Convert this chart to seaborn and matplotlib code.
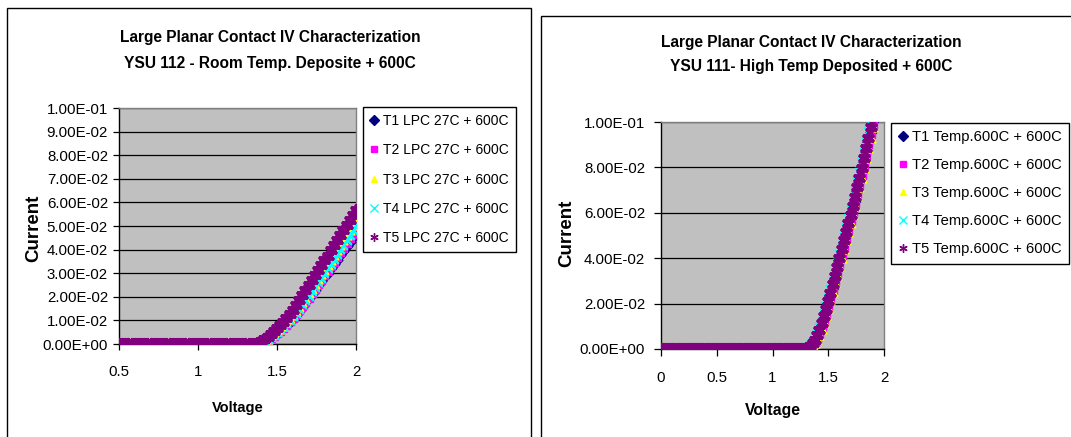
import matplotlib
matplotlib.use('Agg')
import matplotlib.pyplot as plt
import matplotlib.patches as mpatches
from matplotlib.ticker import FuncFormatter
import seaborn as sns
import pandas as pd

# Datos (Voltage en V, Current en A)
volts_left = [
    0.50, 0.52, 0.54, 0.56, 0.58, 0.60, 0.62, 0.64, 0.66, 0.68, 0.70, 0.72, 0.74, 0.76, 0.78,
    0.80, 0.82, 0.84, 0.86, 0.88, 0.90, 0.92, 0.94, 0.96, 0.98, 1.00, 1.02, 1.04, 1.06, 1.08,
    1.10, 1.12, 1.14, 1.16, 1.18, 1.20, 1.22, 1.24, 1.26, 1.28, 1.30, 1.32, 1.34,
    1.36, 1.38, 1.40, 1.42, 1.44, 1.46, 1.48, 1.50, 1.52, 1.54, 1.56, 1.58, 1.60, 1.62, 1.64,
    1.66, 1.68, 1.70, 1.72, 1.74, 1.76, 1.78, 1.80, 1.82, 1.84, 1.86, 1.88, 1.90, 1.92, 1.94,
    1.96, 1.98, 2.00,
]
flat_left = [0.0] * 43  # 0.50 .. 1.34 V, corriente nula

t1_left = flat_left + [
    0.0000, 0.0002, 0.0005, 0.0010, 0.0016, 0.0024, 0.0033, 0.0043, 0.0054, 0.0066, 0.0079,
    0.0093, 0.0108, 0.0124, 0.0141, 0.0158, 0.0176, 0.0194, 0.0212, 0.0230, 0.0248, 0.0266,
    0.0284, 0.0302, 0.0321, 0.0340, 0.0358, 0.0377, 0.0396, 0.0415, 0.0434, 0.0453, 0.0472,
]
t2_left = flat_left + [
    0.0001, 0.0003, 0.0007, 0.0012, 0.0019, 0.0027, 0.0036, 0.0046, 0.0057, 0.0069, 0.0082,
    0.0096, 0.0111, 0.0127, 0.0144, 0.0161, 0.0179, 0.0197, 0.0215, 0.0234, 0.0253, 0.0272,
    0.0291, 0.0310, 0.0329, 0.0348, 0.0368, 0.0388, 0.0408, 0.0428, 0.0448, 0.0468, 0.0488,
]
t3_left = flat_left + [
    0.0001, 0.0004, 0.0009, 0.0015, 0.0023, 0.0032, 0.0042, 0.0053, 0.0065, 0.0078, 0.0092,
    0.0107, 0.0123, 0.0140, 0.0158, 0.0177, 0.0196, 0.0215, 0.0235, 0.0255, 0.0275, 0.0295,
    0.0315, 0.0335, 0.0356, 0.0377, 0.0398, 0.0419, 0.0440, 0.0461, 0.0482, 0.0503, 0.0524,
]
t4_left = flat_left + [
    0.0001, 0.0004, 0.0008, 0.0014, 0.0021, 0.0030, 0.0040, 0.0051, 0.0063, 0.0075, 0.0088,
    0.0102, 0.0117, 0.0133, 0.0150, 0.0168, 0.0186, 0.0205, 0.0224, 0.0243, 0.0262, 0.0281,
    0.0301, 0.0321, 0.0341, 0.0361, 0.0381, 0.0401, 0.0421, 0.0441, 0.0461, 0.0482, 0.0503,
]
t5_left = flat_left + [
    0.0002, 0.0006, 0.0012, 0.0020, 0.0030, 0.0041, 0.0053, 0.0066, 0.0080, 0.0095, 0.0111,
    0.0128, 0.0146, 0.0166, 0.0186, 0.0207, 0.0228, 0.0249, 0.0270, 0.0291, 0.0312, 0.0333,
    0.0354, 0.0375, 0.0397, 0.0418, 0.0439, 0.0460, 0.0481, 0.0503, 0.0524, 0.0545, 0.0566,
]

volts_right = [
    0.00, 0.02, 0.04, 0.06, 0.08, 0.10, 0.12, 0.14, 0.16, 0.18, 0.20, 0.22, 0.24, 0.26, 0.28,
    0.30, 0.32, 0.34, 0.36, 0.38, 0.40, 0.42, 0.44, 0.46, 0.48, 0.50, 0.52, 0.54, 0.56, 0.58,
    0.60, 0.62, 0.64, 0.66, 0.68, 0.70, 0.72, 0.74, 0.76, 0.78, 0.80, 0.82, 0.84, 0.86, 0.88,
    0.90, 0.92, 0.94, 0.96, 0.98, 1.00, 1.02, 1.04, 1.06, 1.08, 1.10, 1.12, 1.14, 1.16, 1.18,
    1.20, 1.22, 1.24, 1.26, 1.28, 1.30,
    1.32, 1.34, 1.36, 1.38, 1.40, 1.42, 1.44, 1.46, 1.48, 1.50, 1.52, 1.54, 1.56, 1.58, 1.60,
    1.62, 1.64, 1.66, 1.68, 1.70, 1.72, 1.74, 1.76, 1.78, 1.80, 1.82, 1.84, 1.86, 1.88, 1.90,
]
flat_right = [0.0] * 66  # 0.00 .. 1.30 V, corriente nula

t1_right = flat_right + [
    0.0003, 0.0008, 0.0018, 0.0032, 0.0050, 0.0073, 0.0101, 0.0131, 0.0163, 0.0197,
    0.0232, 0.0269, 0.0307, 0.0346, 0.0385, 0.0423, 0.0461, 0.0499, 0.0537, 0.0575,
    0.0614, 0.0654, 0.0695, 0.0737, 0.0780, 0.0824, 0.0868, 0.0913, 0.0958, 0.1004,
]
t2_right = flat_right + [
    0.0002, 0.0007, 0.0016, 0.0029, 0.0046, 0.0068, 0.0095, 0.0124, 0.0156, 0.0189,
    0.0224, 0.0260, 0.0298, 0.0336, 0.0375, 0.0413, 0.0451, 0.0489, 0.0527, 0.0565,
    0.0604, 0.0643, 0.0684, 0.0726, 0.0768, 0.0812, 0.0856, 0.0901, 0.0946, 0.0992,
]
t3_right = flat_right + [
    0.0002, 0.0006, 0.0014, 0.0026, 0.0042, 0.0063, 0.0089, 0.0118, 0.0149, 0.0182,
    0.0216, 0.0252, 0.0289, 0.0327, 0.0365, 0.0403, 0.0441, 0.0479, 0.0517, 0.0555,
    0.0593, 0.0632, 0.0672, 0.0713, 0.0755, 0.0798, 0.0842, 0.0886, 0.0931, 0.0977,
]
t4_right = flat_right + [
    0.0008, 0.0017, 0.0031, 0.0048, 0.0069, 0.0095, 0.0125, 0.0157, 0.0191, 0.0226,
    0.0263, 0.0301, 0.0340, 0.0380, 0.0420, 0.0459, 0.0498, 0.0537, 0.0576, 0.0615,
    0.0655, 0.0696, 0.0738, 0.0781, 0.0825, 0.0870, 0.0915, 0.0961, 0.1007, 0.1053,
]
t5_right = flat_right + [
    0.0005, 0.0012, 0.0025, 0.0040, 0.0060, 0.0085, 0.0115, 0.0145, 0.0178, 0.0212,
    0.0248, 0.0285, 0.0323, 0.0362, 0.0402, 0.0440, 0.0478, 0.0516, 0.0554, 0.0592,
    0.0631, 0.0671, 0.0712, 0.0754, 0.0797, 0.0841, 0.0886, 0.0931, 0.0977, 0.1023,
]

labels_left = ['T1 LPC 27C + 600C', 'T2 LPC 27C + 600C', 'T3 LPC 27C + 600C',
               'T4 LPC 27C + 600C', 'T5 LPC 27C + 600C']
labels_right = ['T1 Temp.600C + 600C', 'T2 Temp.600C + 600C', 'T3 Temp.600C + 600C',
                'T4 Temp.600C + 600C', 'T5 Temp.600C + 600C']

title_left = ['Large Planar Contact IV Characterization', 'YSU 112 - Room Temp. Deposite + 600C']
title_right = ['Large Planar Contact IV Characterization', 'YSU 111- High Temp Deposited + 600C']

xticks_left = [0.5, 1, 1.5, 2]
yticks_left = [0.00, 0.01, 0.02, 0.03, 0.04, 0.05, 0.06, 0.07, 0.08, 0.09, 0.10]
xticks_right = [0, 0.5, 1, 1.5, 2]
yticks_right = [0.00, 0.02, 0.04, 0.06, 0.08, 0.10]

# Estilo tipo Excel
colors = ['#000080', '#FF00FF', '#FFFF00', '#00FFFF', '#800080']
markers = ['D', 's', '^', 'x', (6, 2, 0)]
sizes = [30, 30, 40, 40, 46]
lws = [1.0, 1.0, 1.0, 1.6, 2.8]

plt.rcParams['font.family'] = ['Liberation Sans', 'DejaVu Sans']

W, H = 1071, 437
fig = plt.figure(figsize=(W / 100, H / 100), dpi=100)


def px_axes(x0, y0, x1, y1):
    return fig.add_axes([x0 / W, 1 - y1 / H, (x1 - x0) / W, (y1 - y0) / H])


def plot_panel(ax, volts, series, labels, xlim, xticks, yticks, leg_xy, leg_fs,
               leg_space, ypad, ticklen):
    ax.set_facecolor('#C0C0C0')
    for i, (cur, lab) in enumerate(zip(series, labels)):
        df = pd.DataFrame({'Voltage': volts, 'Current': cur})
        if markers[i] in ['D', 's', '^']:
            kw = dict(edgecolor=colors[i], linewidth=lws[i])
        else:
            kw = dict(linewidth=lws[i])
        sns.scatterplot(data=df, x='Voltage', y='Current', ax=ax, color=colors[i],
                        marker=markers[i], s=sizes[i], zorder=3, legend=False, **kw)
    ax.set_xlim(xlim)
    ax.set_ylim(0, 0.1)
    ax.set_xticks(xticks)
    ax.set_yticks(yticks)
    ax.xaxis.set_major_formatter(FuncFormatter(lambda v, p: f'{v:g}'))
    ax.yaxis.set_major_formatter(FuncFormatter(lambda v, p: f'{v:.2E}'))
    ax.grid(axis='y', color='black', linewidth=0.9)
    ax.set_axisbelow(True)
    ax.tick_params(direction='out', length=ticklen, width=0.9, color='black',
                   labelsize=10.8)
    ax.tick_params(axis='x', pad=11)
    ax.tick_params(axis='y', pad=ypad)
    for side in ['top', 'right']:
        ax.spines[side].set_color('#808080')
        ax.spines[side].set_linewidth(1.0)
    for side in ['left', 'bottom']:
        ax.spines[side].set_color('black')
        ax.spines[side].set_linewidth(1.0)
    ax.set_xlabel('')
    ax.set_ylabel('')

    handles = []
    for i, lab in enumerate(labels):
        mk = markers[i]
        h = plt.Line2D([], [], linestyle='none', marker=mk, color=colors[i],
                       markersize=5 if mk in ['D', 's', '^'] else 6,
                       markeredgewidth=1.0, label=lab)
        handles.append(h)
    leg = ax.legend(handles=handles, loc='upper left',
                    bbox_to_anchor=(leg_xy[0] / W, 1 - leg_xy[1] / H),
                    bbox_transform=fig.transFigure, fontsize=leg_fs, frameon=True,
                    fancybox=False, edgecolor='black', framealpha=1,
                    handlelength=0.6, handletextpad=0.35, labelspacing=leg_space,
                    borderpad=0.5, borderaxespad=0)
    leg.get_frame().set_linewidth(1.0)


ax1 = px_axes(119, 108, 356, 344)
plot_panel(ax1, volts_left, [t1_left, t2_left, t3_left, t4_left, t5_left], labels_left,
           (0.5, 2), xticks_left, yticks_left, (363, 107), 10.0, 1.1, 3.6, 4.3)

ax2 = px_axes(661, 122, 884, 349)
plot_panel(ax2, volts_right, [t1_right, t2_right, t3_right, t4_right, t5_right], labels_right,
           (0, 2), xticks_right, yticks_right, (891, 123), 10.6, 0.95, 6.5, 5.0)

# Titulos y etiquetas de ejes
for tx, lines, ys in [(270, title_left, (42, 68)), (811, title_right, (47, 71))]:
    for txt, ty in zip(lines, ys):
        fig.text(tx / W, 1 - ty / H, txt, ha='center', va='baseline', fontsize=11.2,
                 fontweight='bold')
for tx, ty, fs in [(238, 408, 10.5), (773, 410, 11.3)]:
    fig.text(tx / W, 1 - ty / H, 'Voltage', ha='center', va='center', fontsize=fs,
             fontweight='bold')
for tx, ty in [(34, 228), (567, 233)]:
    fig.text(tx / W, 1 - ty / H, 'Current', ha='center', va='center', fontsize=13.5,
             fontweight='bold', rotation=90)

# Marcos de los graficos
fig.patches.append(mpatches.Rectangle((7 / W, -0.1), (531 - 7) / W, 1.1 - 8 / H,
                                      transform=fig.transFigure, fill=False,
                                      edgecolor='black', linewidth=1.0))
fig.patches.append(mpatches.Rectangle((541 / W, -0.1), 0.6, 1.1 - 16 / H,
                                      transform=fig.transFigure, fill=False,
                                      edgecolor='black', linewidth=1.0))

fig.savefig('out.png', dpi=100)
